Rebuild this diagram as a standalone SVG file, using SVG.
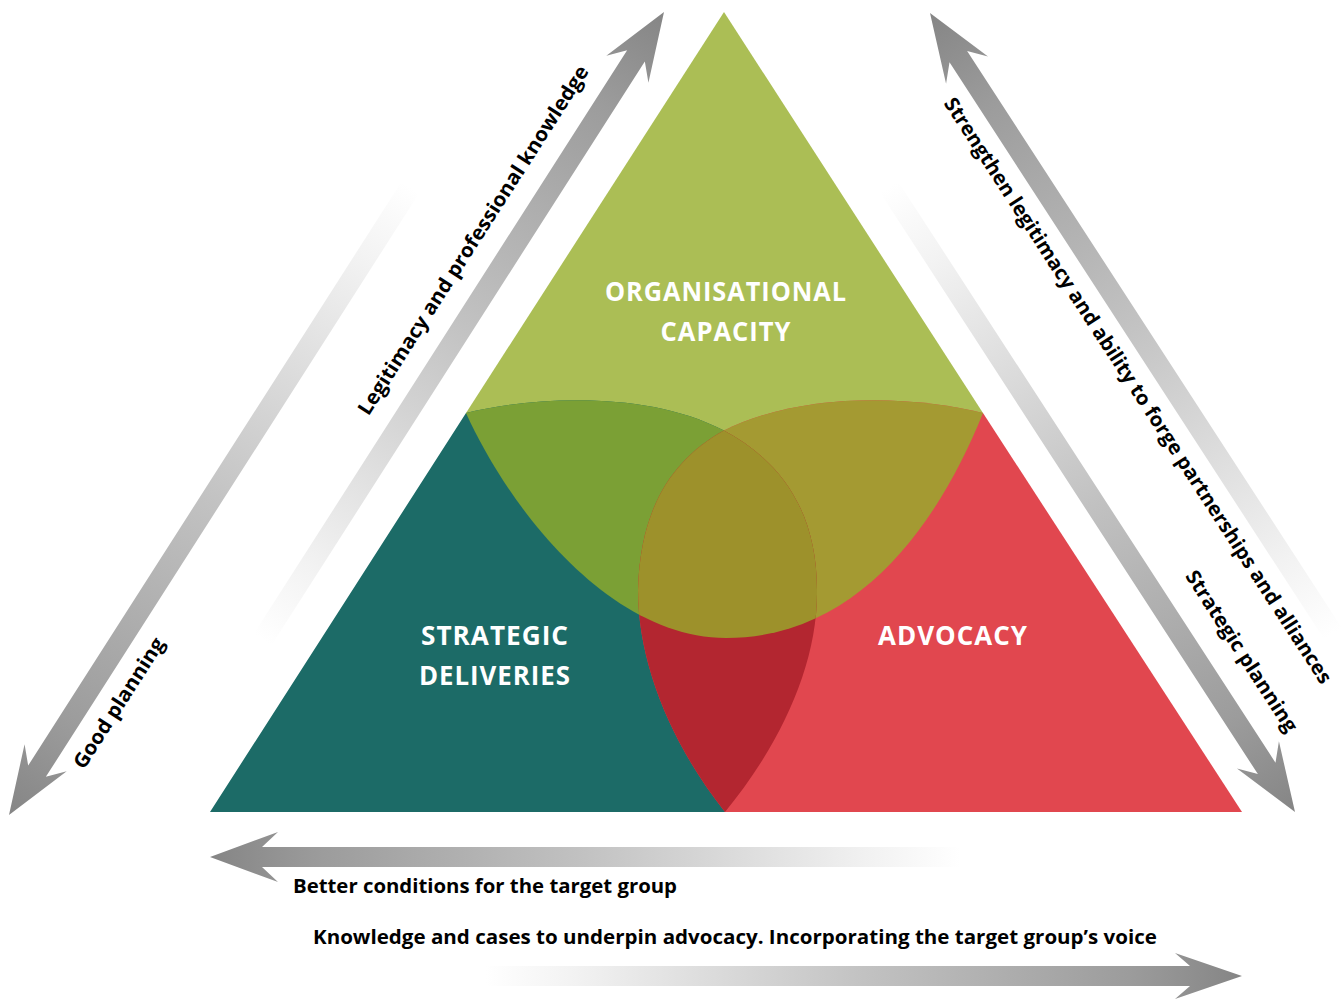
<svg xmlns="http://www.w3.org/2000/svg" xmlns:xlink="http://www.w3.org/1999/xlink" width="1344" height="1001" viewBox="0 0 1344 1001">
<style>
.lbl{font-family:"Open Sans","Noto Sans",sans-serif;font-weight:700;fill:#ffffff;font-size:26px;letter-spacing:1px;text-anchor:middle}
.alab{font-family:"Open Sans","Noto Sans",sans-serif;font-weight:700;fill:#000000;font-size:20px}
.blab{font-family:"Open Sans","Noto Sans",sans-serif;font-weight:700;fill:#000000;font-size:19px}
.arr{fill:url(#ag)}
</style>
<defs>
<linearGradient id="ag" x1="0" y1="0" x2="1" y2="0">
<stop offset="0" stop-color="#ffffff"/>
<stop offset="0.12" stop-color="#f2f2f2"/>
<stop offset="0.5" stop-color="#c2c2c2"/>
<stop offset="0.85" stop-color="#9c9c9c"/>
<stop offset="1" stop-color="#858585"/>
</linearGradient>
<path id="G" d="M724,12 L983,413 C940,520 860,638 726,638 C610,638 510,510 466,413 Z"/>
<path id="T" d="M466,413 L210,812 L725,812 C780,745 818,665 817,590 C817,510 780,460 723,430 C650,392 540,395 466,413 Z"/>
<path id="R" d="M983,413 L1242,812 L725,812 C672,745 638,665 638,590 C640,505 675,458 723,431 C800,392 910,395 983,413 Z"/>
<clipPath id="clipG"><use href="#G"/></clipPath>
<clipPath id="clipT"><use href="#T"/></clipPath>
</defs>
<rect width="1344" height="1001" fill="#ffffff"/>

<g id="node-organisational-capacity">
<use href="#G" fill="#abbe55"/>
</g>
<g id="node-strategic-deliveries">
<use href="#T" fill="#1c6b67"/>
</g>
<g id="node-advocacy">
<use href="#R" fill="#e1474f"/>
</g>
<g id="overlaps">
<use href="#T" fill="#7ba035" clip-path="url(#clipG)"/>
<use href="#R" fill="#a49a32" clip-path="url(#clipG)"/>
<use href="#R" fill="#b32630" clip-path="url(#clipT)"/>
<g clip-path="url(#clipG)"><use href="#R" fill="#9d912b" clip-path="url(#clipT)"/></g>
</g>
<g id="labels">
<text class="lbl" x="726" y="301" textLength="242" lengthAdjust="spacingAndGlyphs">ORGANISATIONAL</text>
<text class="lbl" x="726" y="341" textLength="131" lengthAdjust="spacingAndGlyphs">CAPACITY</text>
<text class="lbl" x="495" y="645" textLength="148" lengthAdjust="spacingAndGlyphs">STRATEGIC</text>
<text class="lbl" x="495" y="685" textLength="152" lengthAdjust="spacingAndGlyphs">DELIVERIES</text>
<text class="lbl" x="953" y="645" textLength="150" lengthAdjust="spacingAndGlyphs">ADVOCACY</text>
</g>

<g id="connectors">
<g id="arrow-legitimacy" transform="translate(664,12) rotate(-57.4)">
<path class="arr" d="M0,0 L-68,-25 L-52,-10.5 L-745,-10.5 L-745,10.5 L-52,10.5 L-68,25 Z"/>
<text class="alab" x="-500" y="-31" textLength="410" lengthAdjust="spacingAndGlyphs">Legitimacy and professional knowledge</text>
</g>
<g id="arrow-good-planning" transform="translate(9,815) rotate(122.6)">
<path class="arr" d="M0,0 L-68,-25 L-52,-10.5 L-745,-10.5 L-745,10.5 L-52,10.5 L-68,25 Z"/>
</g>
<text class="alab" transform="translate(9,815) rotate(-57.4)" x="78" y="39" textLength="151" lengthAdjust="spacingAndGlyphs">Good planning</text>
<g id="arrow-strengthen" transform="translate(930,13) rotate(-123)">
<path class="arr" d="M0,0 L-68,-25 L-52,-10.5 L-740,-10.5 L-740,10.5 L-52,10.5 L-68,25 Z"/>
</g>
<text class="alab" transform="translate(930,13) rotate(57)" x="83" y="38" textLength="694" lengthAdjust="spacingAndGlyphs">Strengthen legitimacy and ability to forge partnerships and alliances</text>
<g id="arrow-strategic-planning" transform="translate(1295,812) rotate(57)">
<path class="arr" d="M0,0 L-68,-25 L-52,-10.5 L-745,-10.5 L-745,10.5 L-52,10.5 L-68,25 Z"/>
<text class="alab" x="-258" y="-36" textLength="188" lengthAdjust="spacingAndGlyphs">Strategic planning</text>
</g>
<g id="arrow-better-conditions" transform="translate(210,857) rotate(180)">
<path class="arr" d="M0,0 L-68,-25 L-52,-10 L-750,-10 L-750,10 L-52,10 L-68,25 Z"/>
</g>
<text class="blab" x="293" y="893" textLength="384" lengthAdjust="spacingAndGlyphs">Better conditions for the target group</text>
<g id="arrow-knowledge" transform="translate(1242,976)">
<path class="arr" d="M0,0 L-67,-23 L-52,-10 L-756,-10 L-756,10 L-52,10 L-67,23 Z"/>
</g>
<text class="blab" x="313" y="944" textLength="844" lengthAdjust="spacingAndGlyphs">Knowledge and cases to underpin advocacy. Incorporating the target group’s voice</text>
</g>
</svg>
